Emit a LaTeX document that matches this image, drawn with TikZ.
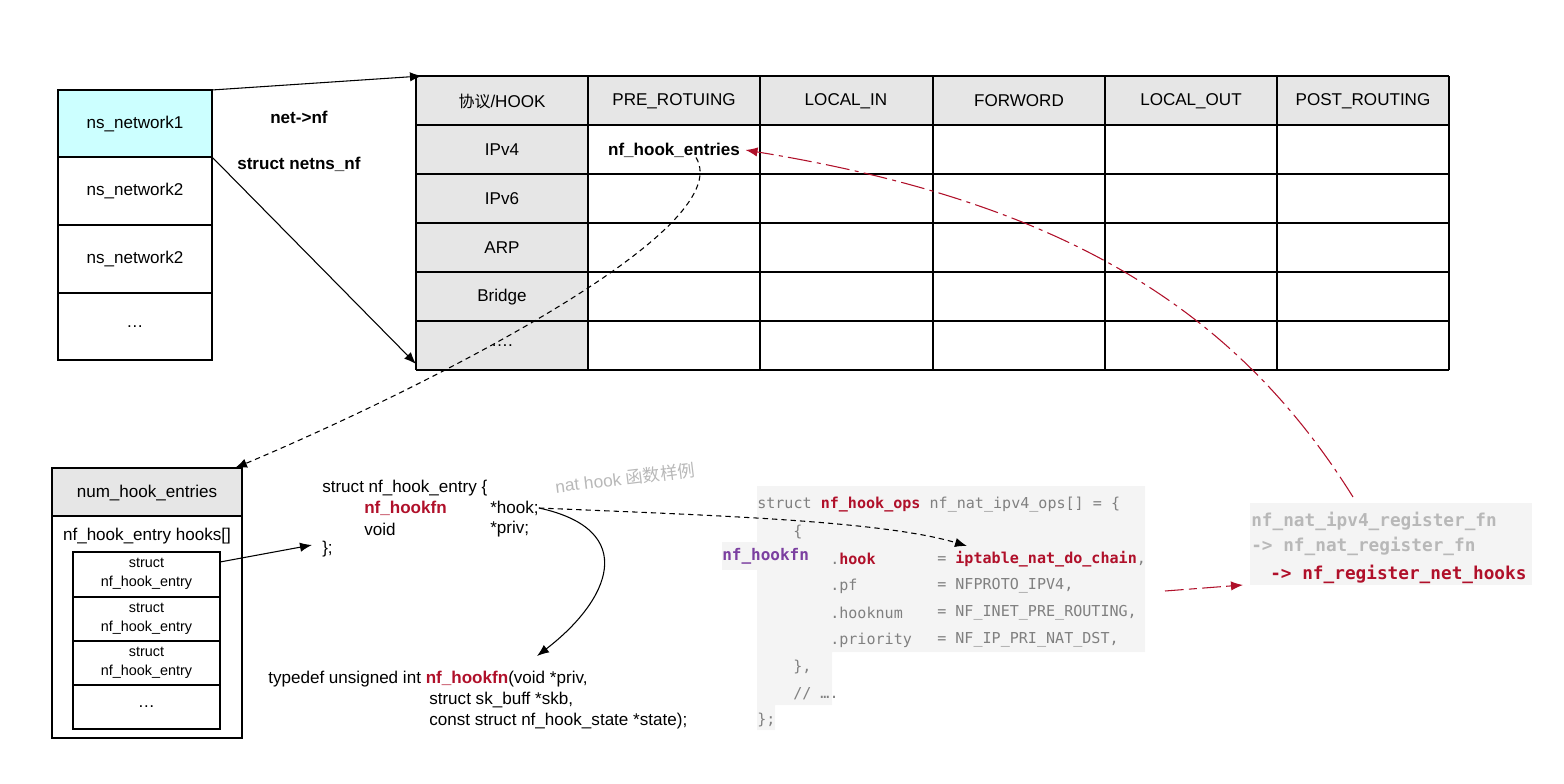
\documentclass[tikz,border=0pt]{standalone}
\usepackage{fontspec}
\setmainfont{Liberation Sans}
\setmonofont{DejaVu Sans Mono}
\newfontfamily\cjk{Noto Sans CJK SC}
\usetikzlibrary{arrows.meta}
\definecolor{hred}{HTML}{B0102A}
\definecolor{hpurple}{HTML}{7B3FA0}
\definecolor{cgray}{HTML}{808080}
\definecolor{lgray}{HTML}{B8B8B8}
\definecolor{cellgray}{HTML}{E6E6E6}
\definecolor{codebg}{HTML}{F4F4F4}
\definecolor{cyanc}{HTML}{CCFFFF}
\begin{document}
\begin{tikzpicture}[x=0.75pt,y=-0.75pt,
  txt/.style={font=\fontsize{12.8}{15}\selectfont,inner sep=0pt},
  code/.style={font=\ttfamily\fontsize{11.3}{13}\selectfont,text=cgray,inner sep=0pt,anchor=west},
  cell/.style={draw,line width=0.8pt},
  dsh/.style={dash pattern=on 4pt off 3pt},
  arr/.style={-{Latex[length=9pt,width=7pt]},line width=0.8pt}]
\useasboundingbox (0,0) rectangle (1564,784);
% table
\foreach \x/\xx in {416/588,588/760,760/933,933/1105,1105/1277,1277/1449}{
  \fill[cellgray] (\x,76) rectangle (\xx,125);}
\fill[cellgray] (416,125) rectangle (588,370);
\foreach \x in {416,588,760,933,1105,1277,1449} \draw[line width=0.8pt] (\x,76) -- (\x,370);
\foreach \y in {76,125,174,223,272,321,370} \draw[line width=0.8pt] (416,\y) -- (1449,\y);
\node[txt] at (502,101) {{\cjk\fontsize{12}{15}\selectfont 协议}/HOOK};
\node[txt] at (674,101) {PRE\_ROTUING};
\node[txt] at (846,101) {LOCAL\_IN};
\node[txt] at (1019,101) {FORWORD};
\node[txt] at (1191,101) {LOCAL\_OUT};
\node[txt] at (1363,101) {POST\_ROUTING};
\node[txt] at (502,150) {IPv4};
\node[txt] at (502,199) {IPv6};
\node[txt] at (502,248) {ARP};
\node[txt] at (502,297) {Bridge};
\node[txt] at (502,346) {\dots.};
\node[txt,font=\bfseries\fontsize{12.8}{15}\selectfont] (nhe) at (674,150) {nf\_hook\_entries};
\coordinate (tbltl) at (422,76);
\coordinate (tblbl) at (416,364);
% left ns box
\fill[cyanc] (58,90) rectangle (212,157);
\draw[line width=0.8pt] (58,90) rectangle (212,360);
\foreach \y in {157,225,293} \draw[line width=0.8pt] (58,\y) -- (212,\y);
\node[txt] at (135,124) {ns\_network1};
\node[txt] at (135,191) {ns\_network2};
\node[txt] at (135,259) {ns\_network2};
\node[txt] at (135,327) {\dots};
\coordinate (ns1) at (212,90);
\coordinate (ns2) at (212,157);
\draw[arr] (ns1) -- (tbltl);
\draw[arr] (ns2) -- (tblbl);
\node[txt,font=\bfseries\fontsize{12.8}{15}\selectfont,anchor=west] at (270,117) {net->nf};
\node[txt,font=\bfseries\fontsize{12.8}{15}\selectfont,anchor=west] at (237,164) {struct netns\_nf};
% num_hook_entries
\fill[cellgray] (52,468) rectangle (242,516);
\draw[line width=0.8pt] (52,468) rectangle (242,738);
\draw[line width=0.8pt] (52,516) -- (242,516);
\node[txt] (nhtop) at (147,493) {num\_hook\_entries};
\node[txt] at (147,536) {nf\_hook\_entry hooks[]};
\draw[line width=0.8pt] (73,552) rectangle (220,729);
\foreach \y in {597,641,685} \draw[line width=0.8pt] (73,\y) -- (220,\y);
\foreach \y in {552,597,641}{
  \node[txt,font=\fontsize{10.8}{14.5}\selectfont,align=center] at (146.5,\y+22) {struct\\nf\_hook\_entry};}
\node[txt] at (146.5,707) {\dots};
\coordinate (nhtopc) at (235,468);
\draw[arr,dsh] (nhe.south) ++(22,0) .. controls (740,230) and (420,390) .. (nhtopc);
% struct
\node[txt,anchor=west] (st) at (322,488) {struct nf\_hook\_entry \{};
\node[txt,anchor=west,text=hred,font=\bfseries\fontsize{12.8}{15}\selectfont] at (364,508) {nf\_hookfn};
\node[txt,anchor=west] (hook) at (490,508) {*hook;};
\node[txt,anchor=west] at (364,529) {void};
\node[txt,anchor=west] at (490,529) {*priv;};
\node[txt,anchor=west] (close) at (322,549) {\};};
\coordinate (hkin) at (220,562);
\draw[arr] (hkin) -- (312,545);
\node[txt,anchor=west] (td) at (268,679) {typedef unsigned int {\color{hred}\bfseries nf\_hookfn}(void *priv,};
\node[txt,anchor=west] at (429,700) {struct sk\_buff *skb,};
\node[txt,anchor=west] at (429,721) {const struct nf\_hook\_state *state);};
\draw[arr] (hook.east) .. controls (640,530) and (610,600) .. (537,656);
\node[txt,text=lgray,rotate=7,font=\fontsize{13}{15}\selectfont] at (625,478) {nat hook {\cjk 函数样例}};
% code block
\fill[codebg] (757,486) -- (1145,486) -- (1145,652) -- (832,652) -- (832,705) -- (775,705) -- (775,730) -- (757,730) -- cycle;
\fill[codebg] (722,542) rectangle (820,570);
\node[code] at (757,505) {struct {\color{hred}\bfseries nf\_hook\_ops} nf\_nat\_ipv4\_ops[] = \{};
\node[code] at (793,532) {\{};
\node[code,text=hpurple,font=\ttfamily\bfseries\fontsize{12}{13}\selectfont] at (722,556) {nf\_hookfn};
\node[code] at (830,559) {.{\color{hred}\bfseries hook}};
\node[code] (ich) at (937,559) {= {\color{hred}\bfseries iptable\_nat\_do\_chain},};
\node[code] at (830,586) {.pf};
\node[code] at (937,586) {= NFPROTO\_IPV4,};
\node[code] at (830,613) {.hooknum};
\node[code] at (937,613) {= NF\_INET\_PRE\_ROUTING,};
\node[code] at (830,640) {.priority};
\node[code] at (937,640) {= NF\_IP\_PRI\_NAT\_DST,};
\node[code] at (793,667) {\},};
\node[code] at (793,694) {// \dots.};
\node[code] at (757,720) {\};};
\coordinate (ichin) at (967,546);
\draw[arr,dsh] (hook.east) .. controls (700,515) and (880,520) .. (ichin);
% right block
\fill[codebg] (1250,503) rectangle (1532,585);
\node[code,text=lgray,font=\ttfamily\bfseries\fontsize{13.3}{15}\selectfont] at (1251,521) {nf\_nat\_ipv4\_register\_fn};
\node[code,text=lgray,font=\ttfamily\bfseries\fontsize{13.3}{15}\selectfont] at (1251,546) {-> nf\_nat\_register\_fn};
\node[code,text=hred,font=\ttfamily\bfseries\fontsize{13.3}{15}\selectfont] (reg) at (1270,574) {-> nf\_register\_net\_hooks};
\coordinate (rtop) at (1353,497);
\coordinate (rin) at (1243,585);
\coordinate (rsrc) at (1165,591);
\draw[arr,hred,dash pattern=on 18pt off 4pt on 3pt off 4pt] (rtop) .. controls (1230,300) and (1050,200) .. ([xshift=4pt]nhe.east);
\draw[arr,hred,dash pattern=on 14pt off 4pt on 6pt off 4pt] (rsrc) -- (rin);
\end{tikzpicture}
\end{document}
